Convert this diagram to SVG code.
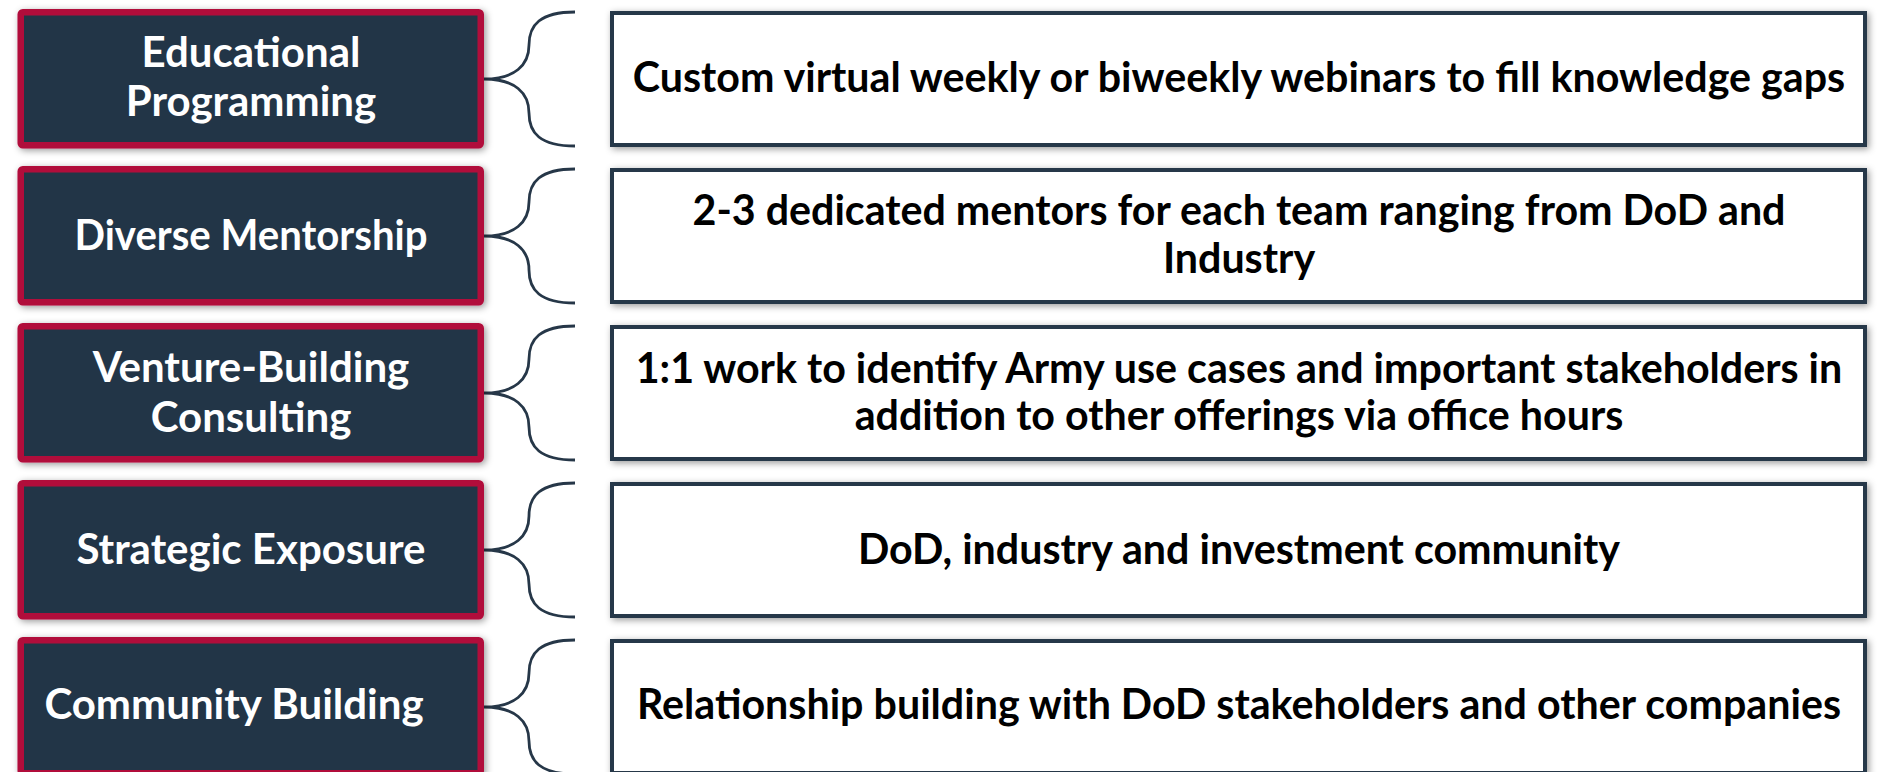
<svg xmlns="http://www.w3.org/2000/svg" width="1878" height="772" viewBox="0 0 1878 772">
  <defs>
    <filter id="shadow" x="-5%" y="-20%" width="110%" height="140%">
      <feDropShadow dx="2" dy="2" stdDeviation="3.5" flood-color="#000" flood-opacity="0.4"/>
    </filter>
    <style>
      .cat { fill: #243546; stroke: #b10d3a; stroke-width: 6.5; filter: url(#shadow); }
      .desc { fill: #ffffff; stroke: #263748; stroke-width: 4; filter: url(#shadow); }
      .brace { fill: none; stroke: #263748; stroke-width: 2.8; }
      .ct { font-family: Lato, "Open Sans", "Liberation Sans", sans-serif; font-weight: bold; font-size: 42px; fill: #ffffff; text-anchor: middle; }
      .dt { font-family: Lato, "Open Sans", "Liberation Sans", sans-serif; font-weight: bold; font-size: 41.2px; fill: #000000; text-anchor: middle; }
    </style>
  </defs>
  <rect width="1878" height="772" fill="#ffffff"/>

  <g id="connectors">
    <path class="brace" d="M575,12 C540,12 529,25 529,45 C529,65 515,79 484,79 C515,79 529,93 529,113 C529,133 540,146 575,146"/>
    <path class="brace" transform="translate(0,157)" d="M575,12 C540,12 529,25 529,45 C529,65 515,79 484,79 C515,79 529,93 529,113 C529,133 540,146 575,146"/>
    <path class="brace" transform="translate(0,314)" d="M575,12 C540,12 529,25 529,45 C529,65 515,79 484,79 C515,79 529,93 529,113 C529,133 540,146 575,146"/>
    <path class="brace" transform="translate(0,471)" d="M575,12 C540,12 529,25 529,45 C529,65 515,79 484,79 C515,79 529,93 529,113 C529,133 540,146 575,146"/>
    <path class="brace" transform="translate(0,628)" d="M575,12 C540,12 529,25 529,45 C529,65 515,79 484,79 C515,79 529,93 529,113 C529,133 540,146 575,146"/>
  </g>

  <g id="cat-educational">
    <rect class="cat" x="20.75" y="12.25" width="460" height="133" rx="2"/>
    <text class="ct" x="251" y="67">Educational</text>
    <text class="ct" x="251" y="116">Programming</text>
  </g>
  <g id="cat-mentorship">
    <rect class="cat" x="20.75" y="169.25" width="460" height="133" rx="2"/>
    <text class="ct" x="251" y="250" textLength="353" lengthAdjust="spacingAndGlyphs">Diverse Mentorship</text>
  </g>
  <g id="cat-consulting">
    <rect class="cat" x="20.75" y="326.25" width="460" height="133" rx="2"/>
    <text class="ct" x="251" y="382">Venture-Building</text>
    <text class="ct" x="251" y="432">Consulting</text>
  </g>
  <g id="cat-exposure">
    <rect class="cat" x="20.75" y="483.25" width="460" height="133" rx="2"/>
    <text class="ct" x="251" y="564">Strategic Exposure</text>
  </g>
  <g id="cat-community">
    <rect class="cat" x="20.75" y="640.25" width="460" height="133" rx="2"/>
    <text class="ct" x="234" y="719">Community Building</text>
  </g>

  <g id="desc-educational">
    <rect class="desc" x="612" y="13" width="1253" height="132"/>
    <text class="dt" x="1239" y="92">Custom virtual weekly or biweekly webinars to fill knowledge gaps</text>
  </g>
  <g id="desc-mentorship">
    <rect class="desc" x="612" y="170" width="1253" height="132"/>
    <text class="dt" x="1239" y="225">2-3 dedicated mentors for each team ranging from DoD and</text>
    <text class="dt" x="1239" y="273">Industry</text>
  </g>
  <g id="desc-consulting">
    <rect class="desc" x="612" y="327" width="1253" height="132"/>
    <text class="dt" x="1239" y="383">1:1 work to identify Army use cases and important stakeholders in</text>
    <text class="dt" x="1239" y="430">addition to other offerings via office hours</text>
  </g>
  <g id="desc-exposure">
    <rect class="desc" x="612" y="484" width="1253" height="132"/>
    <text class="dt" x="1239" y="564">DoD, industry and investment community</text>
  </g>
  <g id="desc-community">
    <rect class="desc" x="612" y="641" width="1253" height="132"/>
    <text class="dt" x="1239" y="719">Relationship building with DoD stakeholders and other companies</text>
  </g>
</svg>
